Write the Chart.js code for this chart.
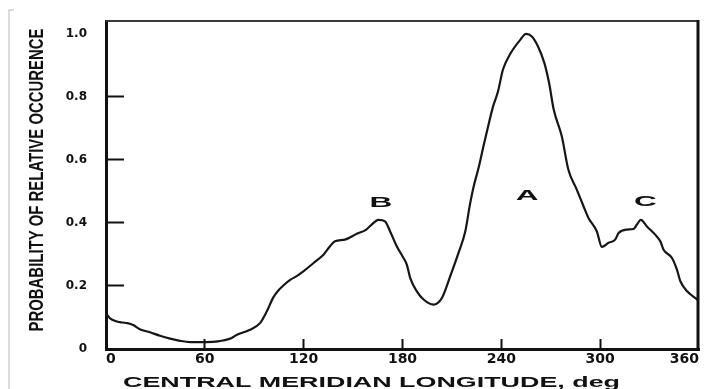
<!DOCTYPE html>
<html><head><meta charset="utf-8">
<script src="https://cdn.jsdelivr.net/npm/chart.js@4/dist/chart.umd.min.js"></script>
<style>html,body{margin:0;padding:0;background:#fff;}canvas{display:block;}</style>
</head><body>
<canvas id="c" width="709" height="389"></canvas>
<script>
const longitude = [0, 2.5, 6, 10, 13, 16.5, 20.5, 26.7, 32.8, 38.9, 44.9, 51, 61, 68, 71, 76, 79.5, 87, 93.5, 97.5,
  101.5, 105, 108, 112, 116, 120, 126, 132, 136, 139, 145, 152, 158, 161.3, 165.4, 169.4, 172.5, 176.5, 180.6, 182.6,
  184.7, 188.7, 192.8, 198.8, 203.9, 208.9, 214, 218.1, 221.1, 223.2, 226.2, 229, 231.5, 235, 238, 241, 245.8, 251.6,
  255, 258.5, 262.2, 266.1, 269, 271.8, 276.7, 280.7, 285.8, 289.9, 292.9, 298, 301, 305.1, 309.1, 311.2, 316.2, 320.3,
  322.3, 324.7, 328.4, 333.4, 336.5, 338.5, 343.6, 346.6, 348.7, 352.8, 358.9, 360];
const probability = [0.113, 0.097, 0.088, 0.084, 0.082, 0.076, 0.063, 0.053, 0.042, 0.033, 0.026, 0.022, 0.022, 0.024, 0.027, 0.034, 0.045, 0.060, 0.082, 0.118,
  0.163, 0.188, 0.203, 0.220, 0.232, 0.247, 0.273, 0.299, 0.326, 0.342, 0.347, 0.365, 0.379, 0.395, 0.410, 0.405, 0.373, 0.326, 0.289, 0.268,
  0.225, 0.183, 0.157, 0.141, 0.162, 0.230, 0.305, 0.373, 0.463, 0.516, 0.575, 0.640, 0.696, 0.770, 0.818, 0.887, 0.940, 0.982,
  1.000, 0.992, 0.961, 0.908, 0.844, 0.760, 0.675, 0.569, 0.506, 0.453, 0.416, 0.373, 0.324, 0.337, 0.347, 0.368, 0.379, 0.381,
  0.395, 0.410, 0.389, 0.363, 0.342, 0.315, 0.289, 0.252, 0.215, 0.183, 0.157, 0.151];
const xTickValues = [0, 60, 120, 180, 240, 300, 360];
const xTickLabels = ['0', '60', '120', '180', '240', '300', '360'];
const yTickValues = [0, 0.2, 0.4, 0.6, 0.8, 1.0];
const yTickLabels = ['0', '0.2', '0.4', '0.6', '0.8', '1.0'];
const peakNames = ['B', 'A', 'C'];
const peakLon = [166.8, 255.6, 327.5];
const peakProb = [0.4625, 0.4863, 0.4667];
const xTitle = 'CENTRAL MERIDIAN LONGITUDE, deg';
const yTitle = 'PROBABILITY OF RELATIVE OCCURENCE';

const FONT = "'Liberation Sans', Arial, Helvetica, sans-serif";
const TICKFONT = "'DejaVu Sans', 'Liberation Sans', Arial, sans-serif";
const INK = '#111';

function zeroPadding(s) { s.paddingLeft = 0; s.paddingRight = 0; s.paddingTop = 0; s.paddingBottom = 0; }
const hideEndsX = (c) => (c.tick && (c.tick.value === 0 || c.tick.value === 360)) ? 'rgba(0,0,0,0)' : INK;
const hideEndsY = (c) => (c.tick && (c.tick.value === 0 || c.tick.value === 1)) ? 'rgba(0,0,0,0)' : INK;

function patchTitle(scale, cx, cy, rot, len) {
  if (scale.$titlePatched) return;
  scale.$titlePatched = true;
  scale.drawTitle = function () {
    const t = this.options.title;
    if (!t || !t.display) return;
    const c = this.ctx;
    c.save();
    c.font = 'bold ' + t.font.size + 'px ' + FONT;
    c.fillStyle = INK; c.textAlign = 'center'; c.textBaseline = 'middle';
    const w = c.measureText(t.text).width;
    c.translate(cx, cy); if (rot) c.rotate(rot); c.scale(len / w, 1);
    c.fillText(t.text, 0, 0);
    c.restore();
  };
}

const styling = {
  id: 'styling',
  beforeDraw(chart) {
    const c = chart.ctx;
    c.save(); c.fillStyle = '#fff'; c.fillRect(0, 0, chart.width, chart.height);
    c.strokeStyle = '#cfcfcf'; c.lineWidth = 1.5; c.beginPath(); c.moveTo(14, 10); c.lineTo(9, 10); c.lineTo(9, 389); c.stroke(); c.restore();
    patchTitle(chart.scales.x, 371.5, 383.3, 0, 497);
    patchTitle(chart.scales.y, 37.5, 180, -Math.PI / 2, 303);
  },
  afterDraw(chart) {
    const c = chart.ctx, xs = chart.scales.x, ys = chart.scales.y;
    const left = xs.getPixelForValue(0), right = xs.getPixelForValue(360);
    const top = ys.getPixelForValue(ys.max), bottom = ys.getPixelForValue(0);
    c.save();
    c.strokeStyle = '#3a3a3a'; c.lineWidth = 2;
    c.beginPath(); c.moveTo(left, top); c.lineTo(right, top); c.stroke();
    c.strokeStyle = INK; c.lineWidth = 3;
    c.beginPath(); c.moveTo(right - 1, top - 1); c.lineTo(right - 1, bottom + 1.5); c.stroke();
    c.restore();
    c.save();
    c.font = 'bold 15px ' + FONT;
    c.fillStyle = INK; c.textAlign = 'center'; c.textBaseline = 'middle';
    for (let i = 0; i < peakNames.length; i++) {
      c.save();
      c.translate(xs.getPixelForValue(peakLon[i]), ys.getPixelForValue(peakProb[i]));
      c.scale(2.1, 1);
      c.fillText(peakNames[i], 0, 0);
      c.restore();
    }
    c.restore();
  }
};

new Chart(document.getElementById('c'), {
  type: 'line',
  data: {
    datasets: [{
      data: longitude.map((x, i) => ({ x: x, y: probability[i] })),
      borderColor: '#161616', borderWidth: 2.2, pointRadius: 0, fill: false,
      cubicInterpolationMode: 'monotone'
    }]
  },
  options: {
    responsive: false, animation: false, devicePixelRatio: 1,
    layout: { padding: { top: 21, right: 10, left: 0, bottom: 0 } },
    plugins: { legend: { display: false }, tooltip: { enabled: false } },
    scales: {
      x: {
        type: 'linear', min: 0, max: 360,
        afterFit(s) { s.height = 40; zeroPadding(s); },
        afterBuildTicks(s) { s.ticks = xTickValues.map(v => ({ value: v })); },
        ticks: {
          autoSkip: false, maxRotation: 0, padding: 12, color: INK, align: 'inner',
          font: { family: TICKFONT, size: 14, weight: 'bold' },
          callback: (v) => { const i = xTickValues.indexOf(v); return i >= 0 ? xTickLabels[i] : String(v); }
        },
        grid: { drawOnChartArea: false, drawTicks: true, tickLength: -10, tickWidth: 2, color: hideEndsX, tickColor: hideEndsX },
        border: { display: true, width: 3, color: INK },
        title: { display: true, text: xTitle, color: INK, font: { family: FONT, size: 14, weight: 'bold' } }
      },
      y: {
        type: 'linear', min: 0, max: 1.041,
        afterFit(s) { s.width = 106; zeroPadding(s); },
        afterBuildTicks(s) { s.ticks = yTickValues.map(v => ({ value: v })); },
        ticks: {
          autoSkip: false, padding: 37, color: INK,
          font: { family: TICKFONT, size: 12, weight: 'bold' },
          callback: (v) => { const i = yTickValues.indexOf(v); return i >= 0 ? yTickLabels[i] : String(v); }
        },
        grid: { drawOnChartArea: false, drawTicks: true, tickLength: -18, tickWidth: 2, color: hideEndsY, tickColor: hideEndsY },
        border: { display: true, width: 3, color: INK },
        title: { display: true, text: yTitle, color: INK, font: { family: FONT, size: 21, weight: 'bold' } }
      }
    }
  },
  plugins: [styling]
});
</script>
</body></html>
